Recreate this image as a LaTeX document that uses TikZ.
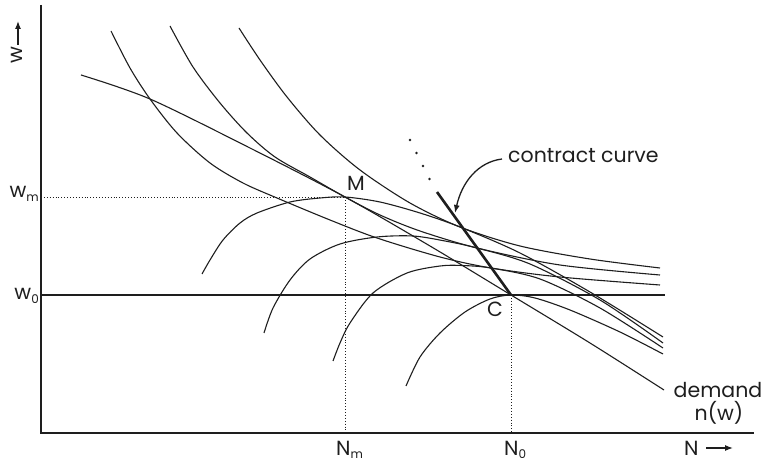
\documentclass[tikz,border=0pt]{standalone}
\usepackage{fontspec}
\setmainfont{Poppins}
\usetikzlibrary{arrows.meta}
\definecolor{ink}{HTML}{1E1E1E}
\newcommand\lblfont{\fontsize{20.5}{24}\selectfont}
\newcommand\subtxt[1]{\raisebox{-0.18em}{\fontsize{12}{12}\selectfont #1}}
\tikzset{
  curve/.style={line width=1.1pt, draw=ink, line join=round},
  axisline/.style={line width=2.2pt, draw=ink},
  dotl/.style={draw=ink, dotted, line width=0.9pt},
  contract/.style={line width=2.6pt, draw=ink},
  lbl/.style={text=ink, inner sep=0pt, font=\lblfont},
  arr/.style={draw=ink, line width=1.3pt, -{Latex[length=8pt,width=6pt]}},
}
\begin{document}
\begin{tikzpicture}[x=1pt,y=-1pt]
\useasboundingbox (0,0) rectangle (766,462);
% axes
\coordinate (O) at (41,433);
\coordinate (ytop) at (41,5);
\coordinate (xend) at (754,433);
\draw[axisline] (ytop) -- (O) -- (xend);
% key points
\coordinate (M) at (345,197);
\coordinate (C) at (511,295);
\coordinate (Nm) at (345,433);
\coordinate (N0) at (511,433);
\coordinate (wm) at (41,197);
\coordinate (w0) at (41,295);
\coordinate (w0end) at (665,295);
\draw[dotl] (wm) -- (M) -- (Nm);
\draw[dotl] (C) -- (N0);
\draw[curve] (w0) -- (w0end);
% demand
\draw[curve] plot[smooth] coordinates {(81,75) (150,99) (250,148) (345,197) (430,246) (511,295) (590,343) (664,390)};
% indifference curves
\draw[curve] plot[smooth] coordinates {(111,31) (130,68) (150,99) (177,133) (210,163) (243,183) (277,198) (330,220) (377,238) (440,257) (491,268) (560,277) (660,285)};
\draw[curve] plot[smooth] coordinates {(170,26) (193,67) (220,103) (247,133) (275,157) (310,177) (345,197) (380,215) (420,231) (477,248) (560,265) (660,275)};
\draw[curve] plot[smooth] coordinates {(239,28) (260,60) (287,97) (320,135) (360,170) (410,203) (460,227) (520,246) (590,259) (660,268)};
% isoprofit curves
\draw[curve] plot[smooth] coordinates {(202,274) (210,260) (223,240) (240,223) (257,213) (290,202) (320,198) (345,197) (380,202) (420,213) (460,227) (520,253) (590,292) (663,337)};
\draw[curve] plot[smooth] coordinates {(264,333) (273,308) (290,280) (310,259) (340,244) (377,237) (413,236) (445,241) (477,248) (530,264) (600,300) (663,343)};
\draw[curve] plot[smooth] coordinates {(333,361) (340,343) (350,323) (373,293) (407,273) (440,266) (462,265.5) (491,268) (540,279) (600,308) (663,348)};
\draw[curve] plot[smooth] coordinates {(406,386) (420,357) (440,333) (465,312) (490,299) (511,295) (535,298) (570,310) (620,332) (663,354)};
% contract curve
\coordinate (K1) at (437,192);
\draw[contract] (K1) -- (C);
\foreach \p in {(410,140),(416.5,153),(423,166),(429.5,179)} \fill[ink] \p circle[radius=1.3pt];
% labels
\node[lbl, anchor=base west] (lM) at (347,191) {M};
\node[lbl, anchor=base west] (lC) at (487,317) {C};
\node[lbl, anchor=base west] (lcc) at (508,163) {contract curve};
\coordinate (ccStart) at (502,159);
\coordinate (ccTip) at (455,213);
\draw[arr] (ccStart) .. controls (478,162) and (462,182) .. (ccTip);
\node[lbl, anchor=base] (ldem) at (718,397) {demand};
\node[lbl, anchor=base] (lnw) at (719,420) {n(w)};
\node[lbl, anchor=base west] (lNm) at (336,455) {N\subtxt{m}};
\node[lbl, anchor=base west] (lN0) at (504,455) {N\subtxt{0}};
\node[lbl, anchor=base west] (lN) at (684,455) {N};
\coordinate (nA1) at (706,448);
\coordinate (nA2) at (733,448);
\draw[arr] (nA1) -- (nA2);
\node[lbl, anchor=base east] (lwm) at (39,198) {w\subtxt{m}};
\node[lbl, anchor=base east] (lw0) at (39,300) {w\subtxt{0}};
\node[lbl, rotate=90, anchor=base west] (lw) at (23,64) {w};
\coordinate (wA1) at (18,45);
\coordinate (wA2) at (18,21);
\draw[arr] (wA1) -- (wA2);
\end{tikzpicture}
\end{document}
